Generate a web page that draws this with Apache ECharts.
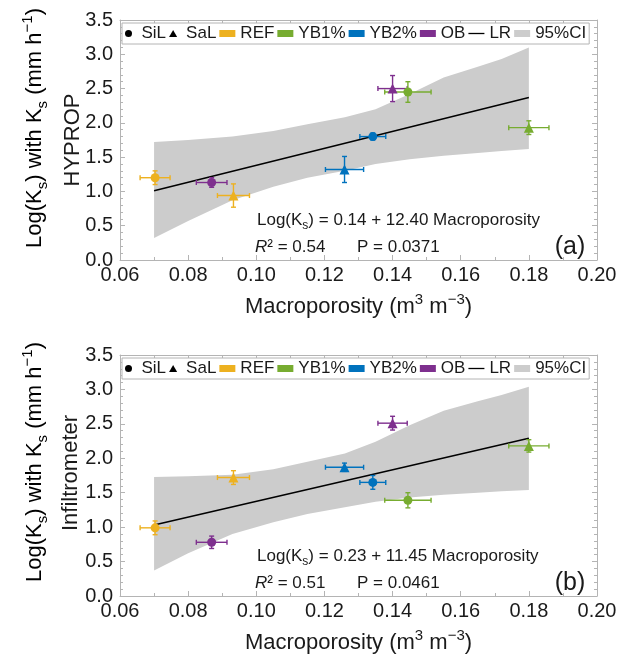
<!DOCTYPE html>
<html>
<head>
<meta charset="utf-8">
<script src="https://cdn.jsdelivr.net/npm/echarts@6/dist/echarts.min.js"></script>
<style>
  html, body { margin: 0; padding: 0; background: #fff; }
  #chart { width: 630px; height: 663px; }
</style>
</head>
<body>
<div id="chart"></div>
<script>
// Ks vs macroporosity, HYPROP (a) and infiltrometer (b)
const macroX = [0.0703, 0.0869, 0.0933, 0.1259, 0.1342, 0.1400, 0.1445, 0.1800];
const macroXErr = [0.0044, 0.0045, 0.0047, 0.0056, 0.0038, 0.0043, 0.0068, 0.0059];
const treatment = ["REF", "OB", "REF", "YB2%", "YB2%", "OB", "YB1%", "YB1%"];
const soilType = ["SiL", "SiL", "SaL", "SaL", "SiL", "SaL", "SiL", "SaL"];

const ksHyprop = [1.20, 1.13, 0.94, 1.32, 1.80, 2.50, 2.45, 1.93];
const ksHypropErr = [0.10, 0.07, 0.17, 0.19, 0.05, 0.19, 0.15, 0.10];
const ksInfil = [0.99, 0.78, 1.72, 1.87, 1.65, 2.51, 1.39, 2.18];
const ksInfilErr = [0.10, 0.09, 0.10, 0.06, 0.10, 0.10, 0.11, 0.09];

// regression line ends
const lrX = [0.070, 0.180];
const lrHyprop = [1.01, 2.37];
const lrInfil = [1.03, 2.29];

// 95% confidence band
const ciX = [0.070, 0.080, 0.093, 0.105, 0.115, 0.126, 0.135, 0.145, 0.155, 0.165, 0.172, 0.180];
const ciHypropUp = [1.72, 1.75, 1.80, 1.88, 1.98, 2.08, 2.20, 2.42, 2.66, 2.82, 2.93, 3.10];
const ciHypropLo = [0.32, 0.57, 0.87, 1.07, 1.20, 1.30, 1.40, 1.47, 1.52, 1.56, 1.59, 1.62];
const ciInfilUp = [1.73, 1.74, 1.76, 1.84, 1.95, 2.07, 2.24, 2.48, 2.69, 2.83, 2.92, 3.04];
const ciInfilLo = [0.37, 0.62, 0.90, 1.07, 1.19, 1.29, 1.37, 1.43, 1.47, 1.50, 1.52, 1.54];

const legendNames = ["SiL", "SaL", "REF", "YB1%", "YB2%", "OB", "LR", "95%CI"];

const colors = { "REF": "#EDB120", "YB1%": "#77AC30", "YB2%": "#0072BD", "OB": "#7E2F8E" };
const bandColor = "#cccccc";
const textColor = "#1a1a1a";
const frameColor = "#b4b4b4";
const font = "Liberation Sans, Arial, sans-serif";
const triPath = "path://M5,0L10,8.66L0,8.66Z";
const linePath = "path://M0,0L16,0L16,1.3L0,1.3Z";

const grids = [
  { left: 120, top: 20, width: 477, height: 240 },
  { left: 120, top: 355, width: 477, height: 241 }
];

const titleRich = {
  n: { fontSize: 22, lineHeight: 30, fontFamily: font, color: textColor },
  sub: { fontSize: 15, verticalAlign: "bottom", fontFamily: font, color: textColor },
  sup: { fontSize: 15, verticalAlign: "top", fontFamily: font, color: textColor }
};
const noteRich = {
  n: { fontSize: 17, lineHeight: 24, fontFamily: font, color: textColor },
  i: { fontSize: 17, lineHeight: 24, fontStyle: "italic", fontFamily: font, color: textColor },
  sub: { fontSize: 12, verticalAlign: "bottom", fontFamily: font, color: textColor }
};

function xAxisPair(g) {
  const base = {
    gridIndex: g, type: "value", min: 0.06, max: 0.20, interval: 0.02,
    axisLine: { show: true, onZero: false, lineStyle: { color: frameColor, width: 1 } },
    axisTick: { show: true, inside: true, length: 5, lineStyle: { color: frameColor } },
    minorTick: { show: true, splitNumber: 2, length: 3, lineStyle: { color: frameColor } },
    splitLine: { show: false }
  };
  return [
    Object.assign({}, base, {
      position: "bottom",
      axisLabel: { fontSize: 20, color: textColor, fontFamily: font, margin: 5, formatter: v => v.toFixed(2) },
      name: "{n|Macroporosity (m}{sup|3}{n| m}{sup|\u22123}{n|)}",
      nameLocation: "middle", nameGap: 32,
      nameTextStyle: { rich: titleRich }
    }),
    Object.assign({}, base, { position: "top", axisLabel: { show: false } })
  ];
}

function yAxisPair(g) {
  const base = {
    gridIndex: g, type: "value", min: 0, max: 3.5, interval: 0.5,
    axisLine: { show: true, onZero: false, lineStyle: { color: frameColor, width: 1 } },
    axisTick: { show: true, inside: true, length: 5, lineStyle: { color: frameColor } },
    minorTick: { show: true, splitNumber: 5, length: 3, lineStyle: { color: frameColor } },
    splitLine: { show: false }
  };
  return [
    Object.assign({}, base, {
      position: "left",
      axisLabel: { fontSize: 20, color: textColor, fontFamily: font, margin: 7, formatter: v => v.toFixed(1) }
    }),
    Object.assign({}, base, { position: "right", axisLabel: { show: false } })
  ];
}

function panelSeries(g, ks, ksErr, lrY, ciUp, ciLo) {
  const xi = g * 2, yi = g * 2;
  return [
    {
      type: "custom", name: "band" + g, xAxisIndex: xi, yAxisIndex: yi, silent: true, z: 1,
      data: [[ciX[0], ciUp[0]]],
      renderItem: (params, api) => {
        const pts = [];
        ciX.forEach((x, i) => pts.push(api.coord([x, ciUp[i]])));
        for (let i = ciX.length - 1; i >= 0; i--) pts.push(api.coord([ciX[i], ciLo[i]]));
        return { type: "polygon", shape: { points: pts }, style: { fill: bandColor } };
      }
    },
    {
      type: "line", name: "lr" + g, xAxisIndex: xi, yAxisIndex: yi, silent: true, z: 2,
      data: lrX.map((x, i) => [x, lrY[i]]),
      symbol: "none", lineStyle: { color: "#000", width: 1.5 }
    },
    {
      type: "custom", name: "err" + g, xAxisIndex: xi, yAxisIndex: yi, silent: true, z: 3,
      data: macroX.map((x, i) => [x, ks[i], macroXErr[i], ksErr[i]]),
      renderItem: (params, api) => {
        const x = api.value(0), y = api.value(1), ex = api.value(2), ey = api.value(3);
        const l = api.coord([x - ex, y]), r = api.coord([x + ex, y]);
        const t = api.coord([x, y + ey]), b = api.coord([x, y - ey]);
        const st = { stroke: colors[treatment[params.dataIndex]], lineWidth: 1.4 };
        const cap = 2.5;
        const ln = (x1, y1, x2, y2) => ({ type: "line", shape: { x1, y1, x2, y2 }, style: st });
        return {
          type: "group",
          children: [
            ln(l[0], l[1], r[0], r[1]),
            ln(t[0], t[1], b[0], b[1]),
            ln(l[0], l[1] - cap, l[0], l[1] + cap),
            ln(r[0], r[1] - cap, r[0], r[1] + cap),
            ln(t[0] - cap, t[1], t[0] + cap, t[1]),
            ln(b[0] - cap, b[1], b[0] + cap, b[1])
          ]
        };
      }
    },
    {
      type: "scatter", name: "pts" + g, xAxisIndex: xi, yAxisIndex: yi, silent: true, z: 4,
      data: macroX.map((x, i) => ({
        value: [x, ks[i]],
        symbol: soilType[i] === "SiL" ? "circle" : "triangle",
        symbolSize: soilType[i] === "SiL" ? 9 : 10,
        itemStyle: { color: colors[treatment[i]], opacity: 1 }
      }))
    }
  ];
}

// empty series that only feed the legends
const legendColors = ["#000", "#000", colors.REF, colors["YB1%"], colors["YB2%"], colors.OB, "#000", bandColor];
const legendSeries = legendNames.map((n, i) => ({
  type: "scatter", name: n, xAxisIndex: 0, yAxisIndex: 0, data: [],
  itemStyle: { color: legendColors[i], opacity: 1 }
}));
const legendIcons = ["circle", triPath, "rect", "rect", "rect", "rect", linePath, "rect"];
const legendData = legendNames.map((n, i) => ({ name: n, icon: legendIcons[i], itemStyle: { opacity: 1 } }));

function legendAt(top) {
  return {
    left: 122, top: top, orient: "horizontal", selectedMode: false,
    itemWidth: 16, itemHeight: 7, itemGap: 3, padding: [2, 3],
    borderColor: frameColor, borderWidth: 1, backgroundColor: "#fff",
    textStyle: { fontSize: 17, color: textColor, fontFamily: font },
    data: legendData
  };
}

function note(x, y, text) {
  return { type: "text", x: x, y: y, z: 100, style: { text: text, rich: noteRich, textVerticalAlign: "middle", fill: textColor } };
}

const chart = echarts.init(document.getElementById("chart"));
chart.setOption({
  animation: false,
  backgroundColor: "#fff",
  grid: grids,
  xAxis: [...xAxisPair(0), ...xAxisPair(1)],
  yAxis: [...yAxisPair(0), ...yAxisPair(1)],
  legend: [legendAt(23), legendAt(358)],
  series: [
    ...panelSeries(0, ksHyprop, ksHypropErr, lrHyprop, ciHypropUp, ciHypropLo),
    ...panelSeries(1, ksInfil, ksInfilErr, lrInfil, ciInfilUp, ciInfilLo),
    ...legendSeries
  ],
  graphic: [
    { type: "text", x: 35, y: 128, rotation: Math.PI / 2,
      style: { text: "{n|Log(K}{sub|s}{n|) with K}{sub|s}{n| (mm h}{sup|\u22121}{n|)}", rich: titleRich, textAlign: "center", textVerticalAlign: "middle" } },
    { type: "text", x: 73, y: 140, rotation: Math.PI / 2,
      style: { text: "HYPROP", font: "22px " + font, fill: textColor, textAlign: "center", textVerticalAlign: "middle" } },
    { type: "text", x: 35, y: 462, rotation: Math.PI / 2,
      style: { text: "{n|Log(K}{sub|s}{n|) with K}{sub|s}{n| (mm h}{sup|\u22121}{n|)}", rich: titleRich, textAlign: "center", textVerticalAlign: "middle" } },
    { type: "text", x: 71, y: 473, rotation: Math.PI / 2,
      style: { text: "Infiltrometer", font: "22px " + font, fill: textColor, textAlign: "center", textVerticalAlign: "middle" } },
    note(257, 220, "{n|Log(K}{sub|s}{n|) = 0.14 + 12.40 Macroporosity}"),
    note(255, 247, "{i|R}{n|\u00b2 = 0.54}"),
    note(357, 247, "{n|P = 0.0371}"),
    note(257, 556, "{n|Log(K}{sub|s}{n|) = 0.23 + 11.45 Macroporosity}"),
    note(255, 583, "{i|R}{n|\u00b2 = 0.51}"),
    note(357, 583, "{n|P = 0.0461}"),
    { type: "text", x: 570, y: 247, z: 100,
      style: { text: "(a)", font: "25px " + font, fill: textColor, textAlign: "center", textVerticalAlign: "middle" } },
    { type: "text", x: 570, y: 583, z: 100,
      style: { text: "(b)", font: "25px " + font, fill: textColor, textAlign: "center", textVerticalAlign: "middle" } }
  ]
});
</script>
</body>
</html>
